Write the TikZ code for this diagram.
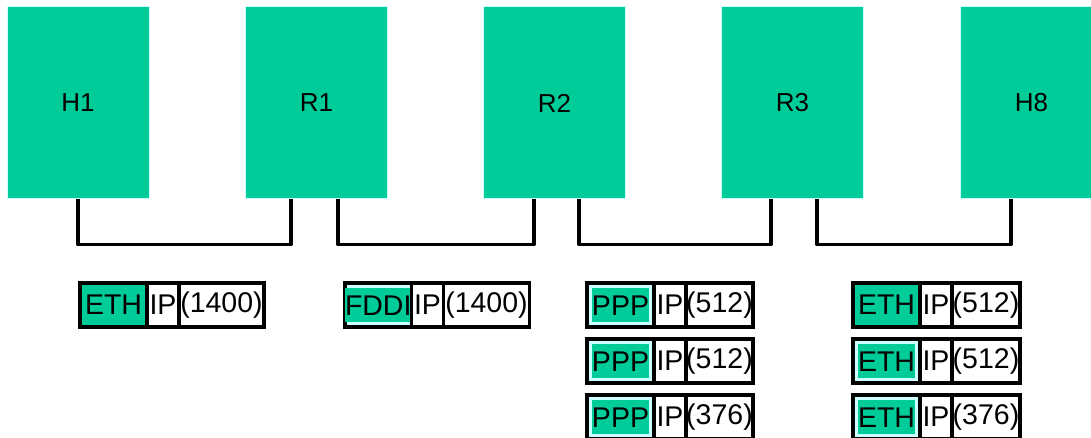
\documentclass[tikz,border=0pt]{standalone}
\usepackage{fontspec}
\setmainfont{Liberation Sans}
\usetikzlibrary{positioning}

\definecolor{hostgreen}{RGB}{0,204,153}
\definecolor{palecyan}{RGB}{204,255,255}

% green band behind a link-layer name
\newcommand\linkhl[1]{{\setlength\fboxsep{0pt}\colorbox{hostgreen}{\rule[-7pt]{0pt}{34pt}#1}}}

\tikzset{
  device/.style={rectangle, fill=hostgreen, draw=palecyan, line width=1pt,
    minimum width=142pt, minimum height=192pt, font=\fontsize{26}{30}\selectfont},
  wire/.style={line width=3.5pt, line join=round},
  cell/.style={rectangle, draw=black, line width=3.5pt, minimum height=44pt,
    inner sep=0pt, outer sep=0pt, font=\fontsize{28.5}{32}\selectfont, anchor=west},
  framecell/.style={cell, fill=hostgreen, minimum width=67pt},
  tagcell/.style={cell, fill=palecyan, minimum width=67pt},
  ipcell/.style={cell, fill=white, minimum width=32pt},
  lencell/.style={cell, fill=white, minimum width=#1},
}

\begin{document}
\begin{tikzpicture}[x=1pt,y=-1pt]
\useasboundingbox (0,0) rectangle (1091,438);

\node[device] (h1) at (78,103) {H1};
\node[device] (r1) at (316.5,103) {R1};
\node[device] (r2) at (554.5,103) {R2};
\node[device] (r3) at (792.5,103) {R3};
\node[device] (h8) at (1031.5,103) {H8};

\draw[wire] (h1.south) -- ++(0,45) -| ([xshift=-25.5pt]r1.south);
\draw[wire] ([xshift=21.5pt]r1.south) -- ++(0,45) -| ([xshift=-20.5pt]r2.south);
\draw[wire] ([xshift=24.5pt]r2.south) -- ++(0,45) -| ([xshift=-21.5pt]r3.south);
\draw[wire] ([xshift=24.5pt]r3.south) -- ++(0,45) -| ([xshift=-20.5pt]h8.south);

% H1 -> R1
\node[framecell] (ethA) at (80,305) {ETH};
\node[ipcell, right=0pt of ethA] (ipA) {IP};
\node[lencell=85pt, right=0pt of ipA] (lenA) {(1400)};

% R1 -> R2
\node[tagcell, minimum width=66pt] (fddiA) at (345,305) {\linkhl{FDDI}};
\node[ipcell, right=0pt of fddiA] (ipB) {IP};
\node[lencell=86pt, right=0pt of ipB] (lenB) {(1400)};

% R2 -> R3
\node[tagcell] (pppA) at (587,305) {\linkhl{PPP}};
\node[ipcell, right=0pt of pppA] (ipC) {IP};
\node[lencell=67pt, right=0pt of ipC] (lenC) {(512)};
\node[tagcell] (pppB) at (587,361) {\linkhl{PPP}};
\node[ipcell, right=0pt of pppB] (ipD) {IP};
\node[lencell=67pt, right=0pt of ipD] (lenD) {(512)};
\node[tagcell] (pppC) at (587,417) {\linkhl{PPP}};
\node[ipcell, right=0pt of pppC] (ipE) {IP};
\node[lencell=67pt, right=0pt of ipE] (lenE) {(376)};

% R3 -> H8
\node[framecell] (ethB) at (853,305) {ETH};
\node[ipcell, right=0pt of ethB] (ipF) {IP};
\node[lencell=68pt, right=0pt of ipF] (lenF) {(512)};
\node[tagcell] (ethC) at (853,361) {\linkhl{ETH}};
\node[ipcell, right=0pt of ethC] (ipG) {IP};
\node[lencell=68pt, right=0pt of ipG] (lenG) {(512)};
\node[tagcell] (ethD) at (853,417) {\linkhl{ETH}};
\node[ipcell, right=0pt of ethD] (ipH) {IP};
\node[lencell=68pt, right=0pt of ipH] (lenH) {(376)};
\end{tikzpicture}
\end{document}
